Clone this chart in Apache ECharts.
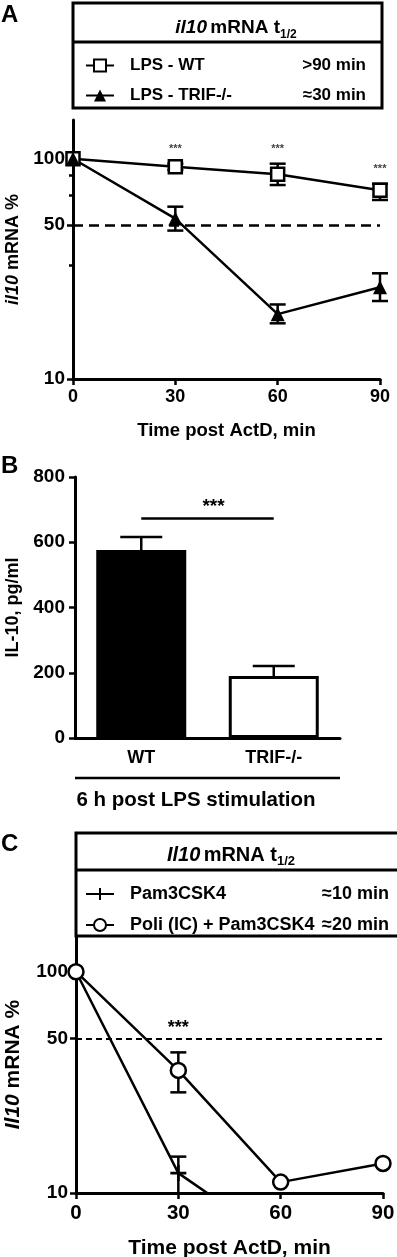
<!DOCTYPE html>
<html>
<head>
<meta charset="utf-8">
<script src="https://cdn.jsdelivr.net/npm/echarts@6/dist/echarts.min.js"></script>
<style>
  html, body { margin: 0; padding: 0; background: #fff; }
  #chart { width: 397px; height: 1257px; }
</style>
</head>
<body>
<div id="chart"></div>
<script>
// A: il10 mRNA decay after ActD (% of t0), LPS WT vs TRIF-/-
const timesA = [0, 30, 60, 90];
const wtMean = [100, 92, 85, 72];
const wtLo = [100, 89, 76, 65];
const wtHi = [100, 95, 95, 77];
const trifMean = [100, 53.5, 19.7, 26.1];
const trifLo = [100, 47.2, 17.9, 22.6];
const trifHi = [100, 60.6, 21.8, 30.2];
const sigTimesA = [30, 60, 90];
const namesA = ['LPS - WT', 'LPS - TRIF-/-'];
const halfLifeA = ['>90 min', '≈30 min'];

// B: IL-10 protein 6 h after LPS
const catsB = ['WT', 'TRIF-/-'];
const il10B = [576, 190];
const il10ErrB = [40, 31];
const sigLevelB = 675;

// C: Il10 mRNA decay, Pam3CSK4 vs Poli (IC) + Pam3CSK4
const timesC = [0, 30, 60, 90];
const pamMean = [100, 12.3, 5.9, 5];
const pamLo = [100, 8.5, 5.9, 5];
const pamHi = [100, 14.6, 5.9, 5];
const poliMean = [100, 35.8, 11.2, 13.6];
const poliLo = [100, 28.5, 11.2, 13.6];
const poliHi = [100, 43.2, 11.2, 13.6];
const sigTimesC = [30];
const namesC = ['Pam3CSK4', 'Poli (IC) + Pam3CSK4'];
const halfLifeC = ['≈10 min', '≈20 min'];

const logTicks = [10, 50, 100];
const minorTicksA = [33, 68, 84];

const font = "'Liberation Sans', Arial, sans-serif";
const ink = '#000';

const pts = (xs, ys) => xs.map((x, i) => [x, ys[i]]);
const errs = (xs, lo, hi) => xs.map((x, i) => [x, lo[i], hi[i]]);

// vertical error bar with caps (upperOnly for bars)
function errorBar(capHalf, upperOnly) {
  return function (params, api) {
    const x = api.value(0);
    const lo = api.value(1), hi = api.value(2);
    if (lo === hi) return null;
    const a = api.coord([x, lo]);
    const b = api.coord([x, hi]);
    const style = { stroke: ink, lineWidth: 2.5 };
    const kids = [
      { type: 'line', shape: { x1: a[0], y1: a[1], x2: b[0], y2: b[1] }, style },
      { type: 'line', shape: { x1: b[0] - capHalf, y1: b[1], x2: b[0] + capHalf, y2: b[1] }, style }
    ];
    if (!upperOnly) {
      kids.push({ type: 'line', shape: { x1: a[0] - capHalf, y1: a[1], x2: a[0] + capHalf, y2: a[1] }, style });
    }
    return { type: 'group', children: kids };
  };
}

function stars(offset, size, weight, color) {
  return function (params, api) {
    const p = api.coord([api.value(0), api.value(1)]);
    return {
      type: 'text', x: p[0], y: p[1] - offset,
      style: { text: '***', textAlign: 'center', textVerticalAlign: 'middle',
        font: weight + ' ' + size + 'px ' + font, fill: color }
    };
  };
}

function xValAxis(grid, size, margin, gap) {
  return {
    gridIndex: grid, type: 'value', min: 0, max: 90, interval: 30,
    axisLine: { onZero: false, lineStyle: { color: ink, width: 3 } },
    axisTick: { length: 6, lineStyle: { color: ink, width: 2.5 } },
    axisLabel: { color: ink, fontWeight: 'bold', fontSize: size, fontFamily: font, margin: margin },
    splitLine: { show: false },
    name: 'Time post ActD, min', nameLocation: 'middle', nameGap: gap,
    nameTextStyle: { color: ink, fontWeight: 'bold', fontSize: size + 0.5, fontFamily: font }
  };
}

function yLogAxis(grid, max, size, nameSize, name, gap) {
  return {
    gridIndex: grid, type: 'log', logBase: 10, min: 10, max: max,
    axisLine: { show: true, lineStyle: { color: ink, width: 3 } },
    axisTick: { show: true, length: 6, customValues: logTicks, lineStyle: { color: ink, width: 2.5 } },
    axisLabel: { customValues: logTicks, color: ink, fontWeight: 'bold', fontSize: size, fontFamily: font, margin: 8 },
    splitLine: { show: false },
    name: name, nameLocation: 'middle', nameRotate: 90, nameGap: gap,
    nameTextStyle: { color: ink, fontWeight: 'bold', fontSize: nameSize, fontFamily: font,
      rich: { i: { fontStyle: 'italic', fontWeight: 'bold', fontSize: nameSize, fontFamily: font, color: ink } } }
  };
}

function legendFor(names, halves, top, size, wa, wb) {
  return {
    data: names, orient: 'vertical', left: 80, top: top,
    itemWidth: 28, itemHeight: 15, itemGap: 13, selectedMode: false,
    formatter: name => '{a|' + name + '}{b|' + halves[names.indexOf(name)] + '}',
    textStyle: {
      rich: {
        a: { width: wa, padding: [0, 0, 0, 11], fontSize: size, fontWeight: 'bold', fontFamily: font, color: ink, lineHeight: 22 },
        b: { width: wb, align: 'right', fontSize: size, fontWeight: 'bold', fontFamily: font, color: ink, lineHeight: 22 }
      }
    }
  };
}

const dash50 = (dash, width) => ({
  silent: true, symbol: 'none', label: { show: false },
  lineStyle: { color: ink, width: width, type: dash },
  data: [{ yAxis: 50 }]
});

const chart = echarts.init(document.getElementById('chart'));

const option = {
  animation: false,
  backgroundColor: '#fff',
  textStyle: { fontFamily: font },
  grid: [
    { left: 73, top: 120, width: 307, height: 259, containLabel: false, outerBoundsMode: 'none' },
    { left: 75, top: 477, width: 265, height: 261, containLabel: false, outerBoundsMode: 'none' },
    { left: 76, top: 936, width: 307, height: 257, containLabel: false, outerBoundsMode: 'none' }
  ],
  legend: [
    legendFor(namesA, halfLifeA, 52, 17, 150, 86),
    legendFor(namesC, halfLifeC, 880, 18, 178, 81)
  ],
  xAxis: [
    xValAxis(0, 18, 9, 42),
    {
      gridIndex: 1, type: 'category', data: catsB,
      axisLine: { lineStyle: { color: ink, width: 3 } },
      axisTick: { alignWithLabel: true, length: 7, lineStyle: { color: ink, width: 2.5 } },
      axisLabel: { color: ink, fontWeight: 'bold', fontSize: 18, fontFamily: font, margin: 11 }
    },
    xValAxis(2, 20.5, 10, 45)
  ],
  yAxis: [
    yLogAxis(0, 150, 19, 18, '{i|il10} mRNA %', 50),
    {
      gridIndex: 0, type: 'log', logBase: 10, min: 10, max: 150, position: 'left',
      axisLine: { show: false }, axisLabel: { show: false }, splitLine: { show: false },
      axisTick: { show: true, length: 4, customValues: minorTicksA, lineStyle: { color: ink, width: 2.5 } }
    },
    {
      gridIndex: 1, type: 'value', min: 0, max: 800, interval: 200,
      axisLine: { show: true, lineStyle: { color: ink, width: 3 } },
      axisTick: { show: true, length: 6, lineStyle: { color: ink, width: 2.5 } },
      axisLabel: { color: ink, fontWeight: 'bold', fontSize: 19, fontFamily: font, margin: 10 },
      splitLine: { show: false },
      name: 'IL-10, pg/ml', nameLocation: 'middle', nameRotate: 90, nameGap: 50,
      nameTextStyle: { color: ink, fontWeight: 'bold', fontSize: 18, fontFamily: font }
    },
    yLogAxis(2, 145, 19, 21, '{i|Il10} mRNA %', 52)
  ],
  series: [
    {
      name: namesA[0], type: 'line', xAxisIndex: 0, yAxisIndex: 0, z: 4,
      data: pts(timesA, wtMean),
      symbol: 'rect', symbolSize: 13,
      itemStyle: { color: '#fff', borderColor: ink, borderWidth: 2.5 },
      lineStyle: { color: ink, width: 2.5 },
      markLine: dash50([10, 6], 2.5)
    },
    {
      name: namesA[1], type: 'line', xAxisIndex: 0, yAxisIndex: 0, z: 4,
      data: pts(timesA, trifMean),
      symbol: 'triangle', symbolSize: 14,
      itemStyle: { color: ink },
      lineStyle: { color: ink, width: 2.5 }
    },
    { name: 'errWT', type: 'custom', xAxisIndex: 0, yAxisIndex: 0, z: 2, clip: false, data: errs(timesA, wtLo, wtHi), renderItem: errorBar(8, false) },
    { name: 'errTRIF', type: 'custom', xAxisIndex: 0, yAxisIndex: 0, z: 2, clip: false, data: errs(timesA, trifLo, trifHi), renderItem: errorBar(8, false) },
    {
      name: 'sigA', type: 'custom', xAxisIndex: 0, yAxisIndex: 0, z: 5,
      data: sigTimesA.map(t => [t, wtHi[timesA.indexOf(t)]]),
      renderItem: stars(15, 11, 'bold', '#444')
    },
    {
      name: 'IL-10', type: 'bar', xAxisIndex: 1, yAxisIndex: 2, barWidth: 90, z: 3,
      data: il10B.map((v, i) => ({
        value: v,
        itemStyle: i === 0 ? { color: ink, borderColor: ink, borderWidth: 2.5 } : { color: '#fff', borderColor: ink, borderWidth: 3 }
      })),
      markLine: {
        silent: true, symbol: 'none',
        lineStyle: { color: ink, width: 2.5, type: 'solid' },
        label: { show: true, position: 'middle', formatter: '***', color: ink, fontWeight: 'bold', fontSize: 19, fontFamily: font, distance: 2, offset: [6, 0] },
        data: [[{ coord: [0, sigLevelB] }, { coord: [1, sigLevelB] }]]
      }
    },
    {
      name: 'errB', type: 'custom', xAxisIndex: 1, yAxisIndex: 2, z: 2,
      data: catsB.map((c, i) => [i, il10B[i], il10B[i] + il10ErrB[i]]),
      renderItem: errorBar(21, true)
    },
    {
      name: namesC[0], type: 'line', xAxisIndex: 2, yAxisIndex: 3, z: 4,
      data: pts(timesC, pamMean),
      symbol: 'path://M5,0H7V5H12V7H7V12H5V7H0V5H5Z', symbolSize: 16,
      itemStyle: { color: ink },
      lineStyle: { color: ink, width: 2.5 },
      markLine: dash50([6, 4], 2)
    },
    {
      name: namesC[1], type: 'line', xAxisIndex: 2, yAxisIndex: 3, z: 4,
      data: pts(timesC, poliMean),
      symbol: 'circle', symbolSize: 15,
      itemStyle: { color: '#fff', borderColor: ink, borderWidth: 2.5 },
      lineStyle: { color: ink, width: 2.5 }
    },
    { name: 'errPam', type: 'custom', xAxisIndex: 2, yAxisIndex: 3, z: 2, clip: true, data: errs(timesC, pamLo, pamHi), renderItem: errorBar(8, false) },
    { name: 'errPoli', type: 'custom', xAxisIndex: 2, yAxisIndex: 3, z: 2, clip: true, data: errs(timesC, poliLo, poliHi), renderItem: errorBar(8, false) },
    {
      name: 'sigC', type: 'custom', xAxisIndex: 2, yAxisIndex: 3, z: 5,
      data: sigTimesC.map(t => [t, poliHi[timesC.indexOf(t)]]),
      renderItem: stars(24, 18, 'bold', ink)
    }
  ],
  graphic: [
    { type: 'text', left: 1, top: 3, style: { text: 'A', font: 'bold 24px ' + font, fill: ink } },
    { type: 'text', left: 1, top: 454, style: { text: 'B', font: 'bold 24px ' + font, fill: ink } },
    { type: 'text', left: 1, top: 832, style: { text: 'C', font: 'bold 24px ' + font, fill: ink } },
    // title boxes over panels A and C
    { type: 'rect', shape: { x: 73, y: 3, width: 309, height: 105 }, style: { fill: 'none', stroke: ink, lineWidth: 3 } },
    { type: 'line', shape: { x1: 73, y1: 42, x2: 382, y2: 42 }, style: { stroke: ink, lineWidth: 3 } },
    {
      type: 'text', x: 236, y: 28,
      style: {
        text: '{i|il10} {m|mRNA t}{s|1/2}', textAlign: 'center', textVerticalAlign: 'middle',
        rich: {
          i: { font: 'italic bold 19px ' + font, fill: ink, lineHeight: 26 },
          m: { font: 'bold 19px ' + font, fill: ink, lineHeight: 26 },
          s: { font: 'bold 12px ' + font, fill: ink, lineHeight: 12, verticalAlign: 'bottom' }
        }
      }
    },
    { type: 'rect', shape: { x: 76, y: 833, width: 340, height: 103 }, style: { fill: 'none', stroke: ink, lineWidth: 3 } },
    { type: 'line', shape: { x1: 76, y1: 870, x2: 397, y2: 870 }, style: { stroke: ink, lineWidth: 3 } },
    {
      type: 'text', x: 231, y: 855,
      style: {
        text: '{i|Il10} {m|mRNA t}{s|1/2}', textAlign: 'center', textVerticalAlign: 'middle',
        rich: {
          i: { font: 'italic bold 20px ' + font, fill: ink, lineHeight: 26 },
          m: { font: 'bold 20px ' + font, fill: ink, lineHeight: 26 },
          s: { font: 'bold 13px ' + font, fill: ink, lineHeight: 13, verticalAlign: 'bottom' }
        }
      }
    },
    // panel B group label
    { type: 'line', shape: { x1: 75, y1: 778, x2: 340, y2: 778 }, style: { stroke: ink, lineWidth: 2.5 } },
    { type: 'text', x: 196, y: 800, style: { text: '6 h post LPS stimulation', textAlign: 'center', textVerticalAlign: 'middle', font: 'bold 20.5px ' + font, fill: ink } }
  ]
};

chart.setOption(option);
</script>
</body>
</html>
